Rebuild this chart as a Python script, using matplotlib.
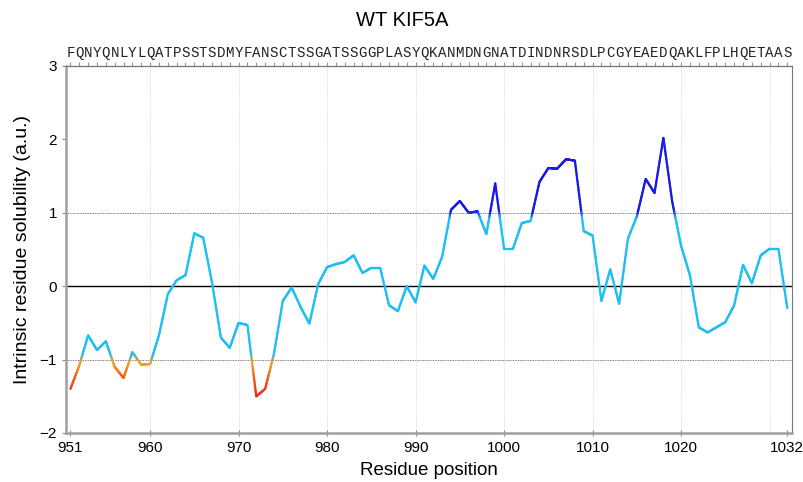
import numpy as np
import matplotlib
matplotlib.use("Agg")
from matplotlib import pyplot as plt
from matplotlib.collections import LineCollection
from matplotlib.colors import LinearSegmentedColormap, Normalize

plt.rcParams['font.family'] = ['Liberation Sans', 'DejaVu Sans']

# residue numbers and sequence
start_res = 951
sequence = "FQNYQNLYLQATPSSTSDMYFANSCTSSGATSSGGPLASYQKANMDNGNATDINDNRSDLPCGYEAEDQAKLFPLHQETAAS"
residues = np.arange(start_res, start_res + len(sequence))

# intrinsic solubility profile
solubility = [
    -1.40, -1.08, -0.67, -0.87, -0.75, -1.10, -1.25, -0.90, -1.07, -1.06,   # 951-960
    -0.67, -0.11, 0.08, 0.15, 0.72, 0.66, 0.05, -0.70, -0.84, -0.50,        # 961-970
    -0.53, -1.50, -1.40, -0.92, -0.20, -0.02, -0.28, -0.51, 0.03, 0.26,     # 971-980
    0.30, 0.33, 0.42, 0.18, 0.25, 0.25, -0.26, -0.34, 0.00, -0.22,          # 981-990
    0.28, 0.10, 0.40, 1.04, 1.16, 1.00, 1.02, 0.71, 1.40, 0.51,             # 991-1000
    0.51, 0.86, 0.89, 1.42, 1.61, 1.60, 1.73, 1.71, 0.75, 0.69,             # 1001-1010
    -0.20, 0.23, -0.24, 0.65, 0.95, 1.46, 1.27, 2.02, 1.15, 0.55,           # 1011-1020
    0.15, -0.56, -0.63, -0.56, -0.49, -0.26, 0.29, 0.04, 0.42, 0.51,        # 1021-1030
    0.51, -0.30,                                                            # 1031-1032
]

bottom_ticks = [951, 960, 970, 980, 990, 1000, 1010, 1020, 1032]
grid_x = [960, 970, 980, 990, 1000, 1010, 1020, 1030]

# colour by value: red/orange below -1, cyan in between, blue above 1
vmin, vmax = -1.5, 2.1
nodes = [(-1.5, '#ee2a1e'), (-1.25, '#f25a1c'), (-1.05, '#f7a41c'),
         (-0.92, '#1ebff2'), (0.93, '#1ebff2'), (1.02, '#1a1ae6'), (2.1, '#1a1ae6')]
cmap = LinearSegmentedColormap.from_list(
    'sol', [((v - vmin) / (vmax - vmin), c) for v, c in nodes])
norm = Normalize(vmin, vmax)

fig = plt.figure(figsize=(8.04, 4.82), dpi=100)
ax = fig.add_axes([0.0821, 0.1017, 0.9026, 0.7614])

# split each segment into small pieces so the colour follows the value
x = np.asarray(residues, dtype=float)
y = np.asarray(solubility)
segs, vals = [], []
for i in range(len(x) - 1):
    t = np.linspace(0, 1, 25)
    xs = x[i] + (x[i + 1] - x[i]) * t
    ys = y[i] + (y[i + 1] - y[i]) * t
    for j in range(len(t) - 1):
        segs.append([(xs[j], ys[j]), (xs[j + 1], ys[j + 1])])
        vals.append((ys[j] + ys[j + 1]) / 2)
lc = LineCollection(segs, colors=cmap(norm(vals)), linewidths=1.6,
                    capstyle='round', joinstyle='round', zorder=3)
ax.add_collection(lc)

ax.axhline(0, color='black', lw=1.0, zorder=2)
for yy in (1, -1):
    ax.axhline(yy, color='#555555', lw=0.6, ls=(0, (1, 1)), zorder=1)
for gx in grid_x:
    ax.axvline(gx, color='#cccccc', lw=0.6, ls=(0, (1, 1.5)), zorder=1)

ax.set_xlim(950.5, 1032.5)
ax.set_ylim(-2, 3)
ax.set_xticks(bottom_ticks)
ax.set_yticks([-2, -1, 0, 1, 2, 3])
ax.tick_params(axis='both', labelsize=11, color='#888888', length=3)
ax.tick_params(axis='x', direction='inout', length=5)

for side in ('left', 'bottom'):
    ax.spines[side].set_color('#a0a0a0')
    ax.spines[side].set_linewidth(1.8)
for side in ('right', 'top'):
    ax.spines[side].set_color('#777777')
    ax.spines[side].set_linewidth(0.8)

# sequence letters along the top (monospaced, one per residue)
top = ax.secondary_xaxis('top')
top.set_xticks(residues, labels=list(sequence))
top.tick_params(length=3, color='#999999', pad=1)
for lab in top.get_xticklabels():
    lab.set_fontfamily(['Liberation Mono', 'DejaVu Sans Mono'])
    lab.set_fontsize(10.2)
    lab.set_color('#222222')

ax.set_xlabel('Residue position', fontsize=13.5, labelpad=5)
ax.set_ylabel('Intrinsic residue solubility (a.u.)', fontsize=14, labelpad=6)
fig.text(0.5, 0.957, 'WT KIF5A', ha='center', va='center', fontsize=14.5)

fig.savefig('out.png', dpi=100)
